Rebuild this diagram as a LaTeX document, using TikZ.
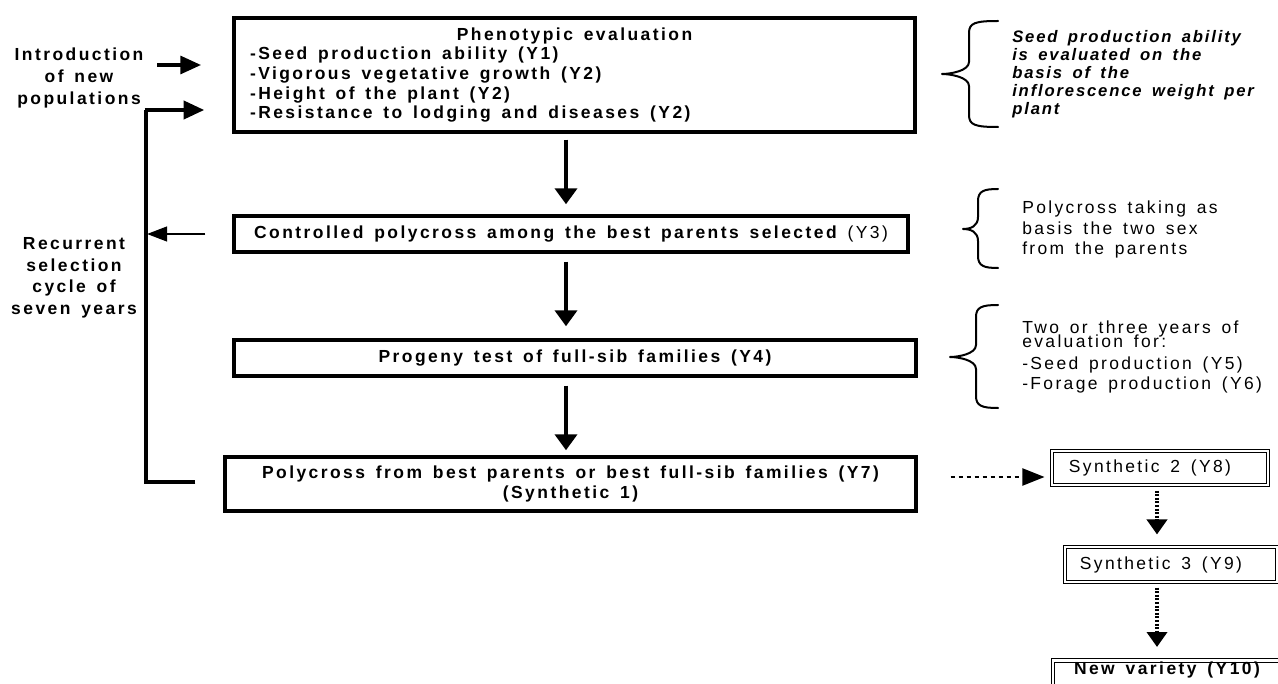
\documentclass[tikz,border=0pt]{standalone}
\usepackage{fontspec}
\setmainfont{Liberation Sans}
\newfontfamily\bsp[LetterSpace=14]{Liberation Sans}
\newfontfamily\rsp[LetterSpace=13.5]{Liberation Sans}
\newfontfamily\isp[LetterSpace=11]{Liberation Sans}
\usetikzlibrary{arrows.meta,calc}
\def\PX{0.75pt}
\newcommand\wsp{\spaceskip=0.62em\relax}
\newcommand\drawcurly[6]{%
  \draw[bracestyle] (#1,#4) .. controls (#2+6,#4) and (#2,#4+2) .. (#2,#4+12)
    -- (#2,#5-12) .. controls (#2,#5-3) and (#3+8,#5) .. (#3,#5)
    .. controls (#3+8,#5) and (#2,#5+3) .. (#2,#5+12)
    -- (#2,#6-12) .. controls (#2,#6-2) and (#2+6,#6) .. (#1,#6);}
\begin{document}
\begin{tikzpicture}[x=0.75pt,y=-0.75pt,
  mainbox/.style={draw, line width=2.6pt, inner sep=0pt, font=\bsp\bfseries\fontsize{13.1}{14.8}\selectfont\wsp},
  synbox/.style={draw, line width=0.8pt, double, double distance=1.6pt, inner sep=0pt, font=\rsp\fontsize{13.1}{15}\selectfont\wsp},
  sidetext/.style={font=\bsp\bfseries\fontsize{13.1}{16.2}\selectfont\wsp, align=center, inner sep=0pt},
  notetext/.style={font=\rsp\fontsize{13.1}{15.4}\selectfont\wsp, align=left, inner sep=0pt, anchor=north west},
  bracestyle/.style={line width=1.5pt, line cap=round, line join=round},
  mainarr/.style={line width=3.6pt, -{Triangle[width=16.5pt,length=12pt]}},
  midarr/.style={line width=2.3pt, -{Triangle[width=13.5pt,length=15.5pt]}},
  thinarr/.style={line width=1.6pt, -{Triangle[width=11pt,length=15pt]}},
  loopline/.style={line width=3pt},
  dasharr/.style={line width=1.5pt, dash pattern=on 3.5pt off 2.5pt, -{Triangle[width=12.75pt,length=16.5pt]}},
  dotarr/.style={line width=3pt, dash pattern=on 1.5pt off 1.2pt, -{Triangle[width=15pt,length=11.25pt]}}
]
\useasboundingbox (0,0) rectangle (1278,684);
\clip (0,0) rectangle (1278,684);
\fill[white] (0,0) rectangle (1278,684);

% main boxes
\node[mainbox, minimum width=681*\PX, minimum height=114*\PX, text width=649*\PX, align=left] (box1) at (574.5,75)
  {\wsp\makebox[\linewidth][c]{Phenotypic evaluation}\\
   -Seed production ability (Y1)\\
   -Vigorous vegetative growth (Y2)\\
   -Height of the plant (Y2)\\
   -Resistance to lodging and diseases (Y2)};
\node[mainbox, minimum width=674*\PX, minimum height=36*\PX] (box2) at (571,234)
  {Controlled polycross among the best parents selected {\mdseries (Y3)}};
\node[mainbox, minimum width=682*\PX, minimum height=36*\PX] (box3) at (575,358)
  {Progeny test of full-sib families (Y4)};
\node[mainbox, minimum width=691*\PX, minimum height=54*\PX, align=center, font=\bsp\bfseries\fontsize{13.1}{15}\selectfont\wsp] (box4) at (570.5,484)
  {Polycross from best parents or best full-sib families (Y7)\\(Synthetic 1)};

% synthetic boxes
\node[synbox, minimum width=216*\PX, minimum height=34*\PX] (syn2) at (1160,468)
  {Synthetic 2 (Y8)\hspace*{15pt}};
\node[synbox, minimum width=212*\PX, minimum height=35*\PX] (syn3) at (1171,564.5)
  {Synthetic 3 (Y9)\hspace*{15pt}};
\node[synbox, anchor=north, minimum width=228*\PX, text height=12*\PX, text depth=26*\PX, inner ysep=2*\PX, font=\bsp\bfseries\fontsize{13.1}{15}\selectfont\wsp] (newv) at (1167,660)
  {New variety (Y10)};

% left texts
\node[sidetext] (intro) at (79,78) {Introduction\\of new\\populations};
\node[sidetext] (cycle) at (74,278) {Recurrent\\selection\\cycle of\\seven years};

% coordinates
\coordinate (col) at (566,0);
\coordinate (dcol) at (1157,0);
\coordinate (inA) at (157,65);
\coordinate (inB) at (201,65);
\coordinate (loopTop) at (146,110);

% vertical main arrows
\draw[mainarr] ($(box1.south -| col)+(0,6)$) -- ($(box2.north -| col)+(0,-10)$);
\draw[mainarr] ($(box2.south -| col)+(0,8)$) -- ($(box3.north -| col)+(0,-12)$);
\draw[mainarr] ($(box3.south -| col)+(0,8)$) -- ($(box4.north -| col)+(0,-5)$);

% introduction arrow
\draw[midarr] (inA) -- (inB);

% recurrent loop
\draw[loopline, line join=miter] ($(box4.west)+(-28,-2)$) -| (loopTop);
\draw[midarr, line width=3pt] ($(loopTop)+(-1.5,0)$) -- ($(box1.west)+(-28,35)$);
\draw[thinarr] ($(box2.west)+(-27,0)$) -- ($(box2.west -| loopTop)+(1,0)$);

% to synthetic line
\draw[dasharr] ($(box4.east)+(33,-7)$) -- ($(syn2.west)+(-7,9)$);
\draw[dotarr] ($(syn2.south -| dcol)+(0,5)$) -- ($(syn3.north -| dcol)+(0,-12)$);
\draw[dotarr] ($(syn3.south -| dcol)+(0,5)$) -- ($(newv.north -| dcol)+(0,-13)$);

% braces
\drawcurly{998}{969}{942}{21}{74}{127}
\drawcurly{998}{978}{963}{189}{229}{268}
\drawcurly{998}{976}{950}{305}{357}{408}

% notes
\node[notetext, font=\isp\bfseries\itshape\fontsize{12.5}{13.5}\selectfont\wsp] (note1) at (1012,30)
  {Seed production ability\\is evaluated on the\\basis of the\\inflorescence weight per\\plant};
\node[notetext] (note2) at (1022,201)
  {Polycross taking as\\basis the two sex\\from the parents};
\node[notetext, font=\rsp\fontsize{13.1}{15}\selectfont\wsp] (note3) at (1022,321)
  {Two or three years of\\[-4.5pt]evaluation for:\\[1pt]-Seed production (Y5)\\-Forage production (Y6)};
\end{tikzpicture}
\end{document}
